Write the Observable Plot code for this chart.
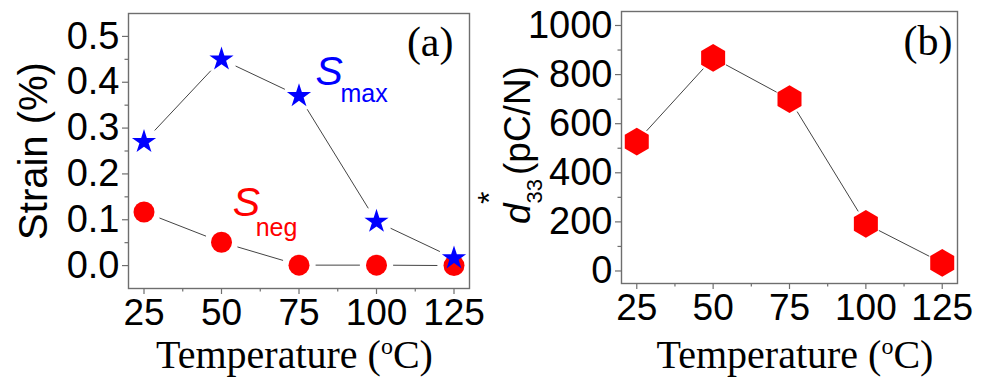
<!DOCTYPE html>
<html><head><meta charset="utf-8">
<script src="https://cdn.jsdelivr.net/npm/d3@7"></script>
<script src="https://cdn.jsdelivr.net/npm/@observablehq/plot@0.6"></script>
<style>
html,body{margin:0;padding:0;background:#fff;}
#wrap{position:relative;width:987px;height:377px;overflow:hidden;background:#fff;}
#wrap svg{position:absolute;top:0;overflow:visible;}
</style></head><body><div id="wrap"></div>
<script>
// ---- data ----
const temps = [25, 50, 75, 100, 125];
const sMax  = [0.27, 0.45, 0.37, 0.096, 0.016];
const sNeg  = [0.117, 0.051, 0.001, 0.001, 0.0];
const d33   = [527, 868, 700, 192, 33];

const xTicks      = [25, 50, 75, 100, 125];
const xMinorTicks = [37.5, 62.5, 87.5, 112.5];
const strainTicks = [0, 0.1, 0.2, 0.3, 0.4, 0.5];
const strainMinor = [0.05, 0.15, 0.25, 0.35, 0.45];
const d33Ticks    = [0, 200, 400, 600, 800, 1000];
const d33Minor    = [100, 300, 500, 700, 900];

// annotation anchors (data space)
const annA = [
  {t: 80.3, v: 0.394, main: "S", sub: "max", color: "#0000ff", subDx: 25, subDy: 17},
  {t: 53.6, v: 0.109, main: "S", sub: "neg", color: "#ff0000", subDx: 23, subDy: 20}
];

const SANS = "'Liberation Sans', Arial, sans-serif";
const SERIF = "'Liberation Serif', 'Times New Roman', serif";
const AXIS = "#6e6e6e";
const LINE = "#444";

const pts = (ys) => temps.map((x, i) => ({x, y: ys[i]}));
const segs = (ys) => d3.pairs(pts(ys)).map(([a, b]) => ({x1: a.x, y1: a.y, x2: b.x, y2: b.y}));

function axisMarks(yT, yMinor, yFmt) {
  return [
    Plot.axisX({ticks: xTicks, tickSize: 6, tickPadding: 4, fontSize: 37, fontFamily: SANS,
      stroke: AXIS, strokeWidth: 1.2, fill: "black", label: null, tickFormat: d => String(d)}),
    Plot.axisX({ticks: xMinorTicks, tickSize: 3.5, stroke: AXIS, strokeWidth: 1.2, label: null, tickFormat: () => ""}),
    Plot.axisY({ticks: yT, tickSize: 6, tickPadding: 3, fontSize: 38, fontFamily: SANS,
      stroke: AXIS, strokeWidth: 1.2, fill: "black", label: null, tickFormat: yFmt}),
    Plot.axisY({ticks: yMinor, tickSize: 3.5, stroke: AXIS, strokeWidth: 1.2, label: null, tickFormat: () => ""}),
    Plot.frame({stroke: AXIS, strokeWidth: 1.4})
  ];
}

const lineOpts = (inset) => ({x1: "x1", y1: "y1", x2: "x2", y2: "y2", stroke: LINE, strokeWidth: 1,
  headLength: 0, insetStart: inset, insetEnd: inset});

// ---- panel (a) ----
const mA = {left: 128, right: 21, top: 13, bottom: 89};
const plotA = Plot.plot({
  width: 490, height: 377,
  marginLeft: mA.left, marginRight: mA.right, marginTop: mA.top, marginBottom: mA.bottom,
  style: {background: "transparent", overflow: "visible", color: "black"},
  x: {domain: [20, 130]},
  y: {domain: [-0.05, 0.55]},
  marks: [
    ...axisMarks(strainTicks, strainMinor, d3.format(".1f")),
    Plot.arrow(segs(sNeg), lineOpts(17)),
    Plot.arrow(segs(sMax), lineOpts(16)),
    Plot.dot(pts(sNeg), {x: "x", y: "y", r: 10.5, fill: "#ff0000", symbol: "circle"}),
    Plot.dot(pts(sMax), {x: "x", y: "y", r: 7.6, fill: "#0000ff", symbol: "star"}),
    Plot.text(["(a)"], {text: d => d, frameAnchor: "top-right", dx: -16, dy: 42, lineAnchor: "bottom",
      textAnchor: "end", fontSize: 42, fontFamily: SERIF, fill: "black"}),
    Plot.text(["Strain (%)"], {text: d => d, frameAnchor: "left", rotate: -90, dx: -82, lineAnchor: "bottom",
      textAnchor: "middle", fontSize: 40, fontFamily: SANS, fill: "black"}),
    ...annA.map(a => Plot.text([a], {x: "t", y: "v", text: "main", fill: a.color, fontSize: 41,
      fontStyle: "italic", fontFamily: SANS, textAnchor: "start", lineAnchor: "bottom"})),
    ...annA.map(a => Plot.text([a], {x: "t", y: "v", text: "sub", fill: a.color, fontSize: 25,
      fontFamily: SANS, textAnchor: "start", lineAnchor: "bottom", dx: a.subDx, dy: a.subDy}))
  ]
});

// ---- panel (b) ----
const mB = {left: 131, right: 30, top: 11, bottom: 94};
const plotB = Plot.plot({
  width: 497, height: 377,
  marginLeft: mB.left, marginRight: mB.right, marginTop: mB.top, marginBottom: mB.bottom,
  style: {background: "transparent", overflow: "visible", color: "black"},
  x: {domain: [20, 130]},
  y: {domain: [-51, 1057]},
  marks: [
    ...axisMarks(d33Ticks, d33Minor, d => String(d)),
    Plot.arrow(segs(d33), lineOpts(15)),
    Plot.hexagon(pts(d33), {x: "x", y: "y", r: 12, fill: "#ff0000", stroke: "none"}),
    Plot.text(["(b)"], {text: d => d, frameAnchor: "top-right", dx: -5, dy: 43, lineAnchor: "bottom",
      textAnchor: "end", fontSize: 42, fontFamily: SERIF, fill: "black"})
  ]
});

const wrap = document.getElementById("wrap");
plotA.style.left = "0px";
plotB.style.left = "490px";
wrap.appendChild(plotA);
wrap.appendChild(plotB);

// x-axis titles with superscript "o"
function xTitle(svg, w, m, dx, baseline) {
  const cx = m.left + (w - m.left - m.right) / 2 + dx;
  const t = d3.select(svg).append("text")
    .attr("x", cx).attr("y", baseline).attr("text-anchor", "middle")
    .attr("font-family", SERIF).attr("font-size", 40).attr("fill", "black");
  t.append("tspan").text("Temperature (");
  t.append("tspan").attr("font-size", 24).attr("dy", -14).text("o");
  t.append("tspan").attr("dy", 14).text("C)");
}
xTitle(plotA, 490, mA, -4, 368);
xTitle(plotB, 497, mB, 6, 368);

// y-axis title of panel (b): d*33 (pC/N)
{
  const g = d3.select(plotB).append("g").attr("transform", "translate(40,224) rotate(-90)");
  const t = g.append("text").attr("x", 0).attr("y", 0).attr("text-anchor", "start")
    .attr("font-family", SANS).attr("fill", "black");
  t.append("tspan").attr("font-size", 37).attr("font-style", "italic").text("d");
  t.append("tspan").attr("font-size", 22).attr("dy", 12).text("33");
  t.append("tspan").attr("x", 20).attr("y", -30).attr("font-size", 32).text("*");
  t.append("tspan").attr("x", 49).attr("y", 0).attr("font-size", 37).text("(pC/N)");
}
</script>
</body></html>
